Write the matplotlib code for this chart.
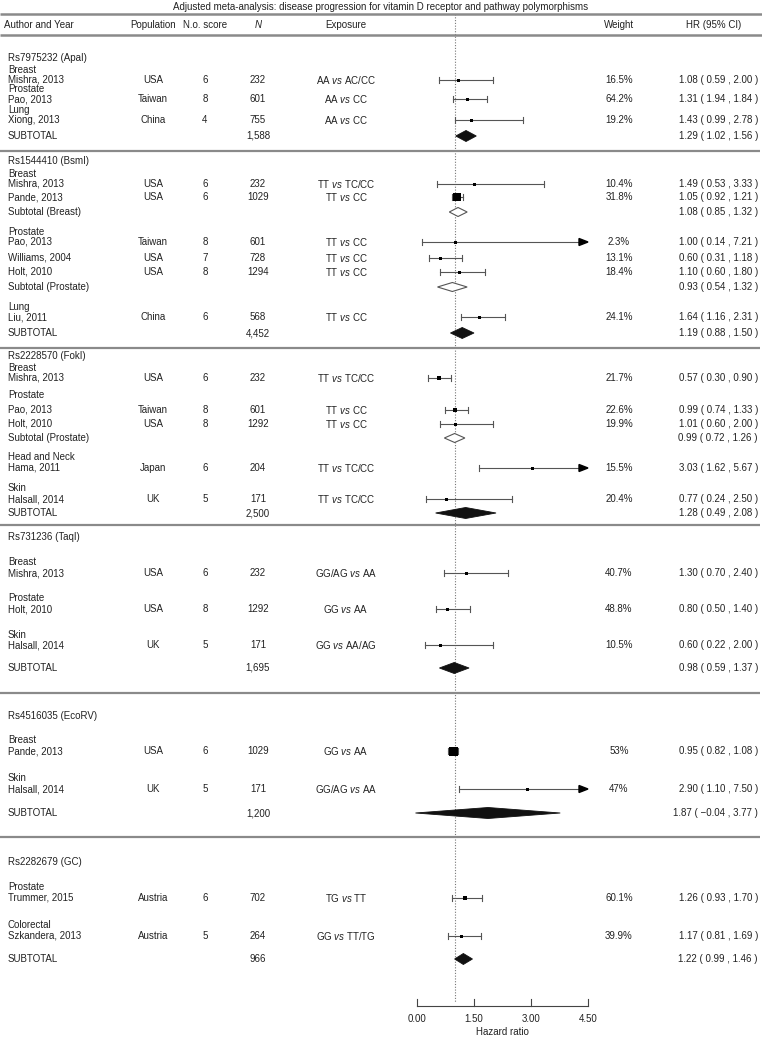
import matplotlib
matplotlib.use("Agg")
import matplotlib.pyplot as plt

plt.rcParams['font.family'] = ['Liberation Sans', 'DejaVu Sans']
plt.rcParams['mathtext.fontset'] = 'custom'
plt.rcParams['mathtext.rm'] = 'Liberation Sans'
plt.rcParams['mathtext.it'] = 'Liberation Sans:italic'

# ---- data ----
title = "Adjusted meta-analysis: disease progression for vitamin D receptor and pathway polymorphisms"

section_names = ["Rs7975232 (ApaI)", "Rs1544410 (BsmI)", "Rs2228570 (FokI)",
                 "Rs731236 (TaqI)", "Rs4516035 (EcoRV)", "Rs2282679 (GC)"]

site_names = ["Breast", "Prostate", "Lung",
              "Breast", "Prostate", "Lung",
              "Breast", "Prostate", "Head and Neck", "Skin",
              "Breast", "Prostate", "Skin",
              "Breast", "Skin",
              "Prostate", "Colorectal"]

study_author = ["Mishra, 2013", "Pao, 2013", "Xiong, 2013",
                "Mishra, 2013", "Pande, 2013", "Pao, 2013", "Williams, 2004", "Holt, 2010", "Liu, 2011",
                "Mishra, 2013", "Pao, 2013", "Holt, 2010", "Hama, 2011", "Halsall, 2014",
                "Mishra, 2013", "Holt, 2010", "Halsall, 2014",
                "Pande, 2013", "Halsall, 2014",
                "Trummer, 2015", "Szkandera, 2013"]
study_population = ["USA", "Taiwan", "China",
                    "USA", "USA", "Taiwan", "USA", "USA", "China",
                    "USA", "Taiwan", "USA", "Japan", "UK",
                    "USA", "USA", "UK",
                    "USA", "UK",
                    "Austria", "Austria"]
study_score = [6, 8, 4, 6, 6, 8, 7, 8, 6, 6, 8, 8, 6, 5, 6, 8, 5, 6, 5, 6, 5]
study_n = [232, 601, 755, 232, 1029, 601, 728, 1294, 568, 232, 601, 1292, 204, 171,
           232, 1292, 171, 1029, 171, 702, 264]
study_exposure = [("AA", "AC/CC"), ("AA", "CC"), ("AA", "CC"),
                  ("TT", "TC/CC"), ("TT", "CC"), ("TT", "CC"), ("TT", "CC"), ("TT", "CC"), ("TT", "CC"),
                  ("TT", "TC/CC"), ("TT", "CC"), ("TT", "CC"), ("TT", "TC/CC"), ("TT", "TC/CC"),
                  ("GG/AG", "AA"), ("GG", "AA"), ("GG", "AA/AG"),
                  ("GG", "AA"), ("GG/AG", "AA"),
                  ("TG", "TT"), ("GG", "TT/TG")]
study_weight = [16.5, 64.2, 19.2, 10.4, 31.8, 2.3, 13.1, 18.4, 24.1, 21.7, 22.6, 19.9, 15.5, 20.4,
                40.7, 48.8, 10.5, 53, 47, 60.1, 39.9]
study_hr = [1.08, 1.31, 1.43, 1.49, 1.05, 1.00, 0.60, 1.10, 1.64, 0.57, 0.99, 1.01, 3.03, 0.77,
            1.30, 0.80, 0.60, 0.95, 2.90, 1.26, 1.17]
study_lo = [0.59, 0.94, 0.99, 0.53, 0.92, 0.14, 0.31, 0.60, 1.16, 0.30, 0.74, 0.60, 1.62, 0.24,
            0.70, 0.50, 0.22, 0.82, 1.10, 0.93, 0.81]
study_hi = [2.00, 1.84, 2.78, 3.33, 1.21, 7.21, 1.18, 1.80, 2.31, 0.90, 1.33, 2.00, 5.67, 2.50,
            2.40, 1.40, 2.00, 1.08, 7.50, 1.70, 1.69]

subtotal_label = ["SUBTOTAL", "Subtotal (Breast)", "Subtotal (Prostate)", "SUBTOTAL",
                  "Subtotal (Prostate)", "SUBTOTAL", "SUBTOTAL", "SUBTOTAL", "SUBTOTAL"]
subtotal_n = ["1,588", "", "", "4,452", "", "2,500", "1,695", "1,200", "966"]
subtotal_hr = [1.29, 1.08, 0.93, 1.19, 0.99, 1.28, 0.98, 1.87, 1.22]
subtotal_lo = [1.02, 0.85, 0.54, 0.88, 0.72, 0.49, 0.59, -0.04, 0.99]
subtotal_hi = [1.56, 1.32, 1.32, 1.50, 1.26, 2.08, 1.37, 3.77, 1.46]
subtotal_overall = [True, False, False, True, False, True, True, True, True]

axis_ticks = [0.0, 1.5, 3.0, 4.5]

# ---- layout (pixel rows from the top of the page) ----
section_y = [58, 161, 356, 537, 716, 862]
separator_y = [151, 348, 525, 693, 837]
site_y = [70, 89, 110, 174, 232, 307, 368, 395, 457, 488, 562, 598, 635, 740, 778, 887, 925]
study_y = [80, 99, 120, 184, 197, 242, 258, 272, 317, 378, 410, 424, 468, 499,
           573, 609, 645, 751, 789, 898, 936]
subtotal_y = [136, 212, 287, 333, 438, 513, 668, 813, 959]

W, H = 762, 1040
X0, PXU = 417, 38.0          # pixel of HR=0 and pixels per HR unit
XMAX = axis_ticks[-1]
FS = 7
TXT = '#222222'
GREY = '#555555'


def col(px):
    return (px - X0) / PXU


fig = plt.figure(figsize=(W / 100, H / 100), dpi=100)
ax = fig.add_axes([0, 0, 1, 1])
ax.set_xlim(col(0), col(W))
ax.set_ylim(H, 0)
ax.axis('off')

# title and header
ax.text(col(W / 2), 7, title, ha='center', va='center', fontsize=FS, color=TXT)
for yl in (14, 35):
    ax.plot([col(0), col(W)], [yl, yl], color='#8a8a8a', lw=1.8, solid_capstyle='butt')
hdr = [("Author and Year", 4, 'left'), ("Population", 153, 'center'), ("N.o. score", 205, 'center'),
       ("N", 258, 'center'), ("Exposure", 346, 'center'), ("Weight", 619, 'center'),
       ("HR (95% CI)", 714, 'center')]
for name, px, ha in hdr:
    ax.text(col(px), 25, name, ha=ha, va='center', fontsize=FS, color=TXT,
            fontstyle='italic' if name == "N" else 'normal')

for name, y in zip(section_names, section_y):
    ax.text(col(8), y, name, ha='left', va='center', fontsize=FS, color=TXT)
for y in separator_y:
    ax.plot([col(0), col(W - 2)], [y, y], color='#8a8a8a', lw=1.6, solid_capstyle='butt')
for name, y in zip(site_names, site_y):
    ax.text(col(8), y, name, ha='left', va='center', fontsize=FS, color=TXT)

# reference line at HR = 1
ax.plot([1, 1], [14, 1002], color='#777777', lw=0.8, ls=(0, (1, 1.5)), zorder=1)

px = 1 / PXU
for i, y in enumerate(study_y):
    ax.text(col(8), y, study_author[i], ha='left', va='center', fontsize=FS, color=TXT)
    ax.text(col(153), y, study_population[i], ha='center', va='center', fontsize=FS, color=TXT)
    ax.text(col(205), y, str(study_score[i]), ha='center', va='center', fontsize=FS, color=TXT)
    ax.text(col(258), y, str(study_n[i]), ha='center', va='center', fontsize=FS, color=TXT)
    a, b = study_exposure[i]
    ax.text(col(346), y, a + r" $\it{vs}$ " + b, ha='center', va='center', fontsize=FS, color=TXT)
    ax.text(col(619), y, f"{study_weight[i]:g}%", ha='center', va='center', fontsize=FS, color=TXT)
    lab_lo = "1.94" if i == 1 else f"{study_lo[i]:.2f}"   # printed that way in the source
    ax.text(col(758), y, f"{study_hr[i]:.2f} ( {lab_lo} , {study_hi[i]:.2f} )",
            ha='right', va='center', fontsize=FS, color=TXT)

    lo, hi = study_lo[i], study_hi[i]
    clipped = hi > XMAX
    right = XMAX - 8 * px if clipped else hi
    ax.plot([lo, right], [y, y], color=GREY, lw=0.8, zorder=2)
    ax.plot([lo, lo], [y - 2.8, y + 2.8], color=GREY, lw=0.8, zorder=2)
    if clipped:
        ax.fill([XMAX - 9 * px, XMAX, XMAX - 9 * px], [y - 3.5, y, y + 3.5], color='black', zorder=3)
    else:
        ax.plot([hi, hi], [y - 2.8, y + 2.8], color=GREY, lw=0.8, zorder=2)
    side = min(max(2.4 / (hi - lo), 3.0), 9.0)
    ax.plot(study_hr[i], y, marker='s', ms=side * 0.72, color='black', mec='black', mew=0, zorder=4)

for i, y in enumerate(subtotal_y):
    ax.text(col(8), y, subtotal_label[i], ha='left', va='center', fontsize=FS, color=TXT)
    ax.text(col(258), y, subtotal_n[i], ha='center', va='center', fontsize=FS, color=TXT)
    lo_txt = f"{subtotal_lo[i]:.2f}".replace('-', '\u2212')
    ax.text(col(758), y, f"{subtotal_hr[i]:.2f} ( {lo_txt} , {subtotal_hi[i]:.2f} )",
            ha='right', va='center', fontsize=FS, color=TXT)
    h = 5.5 if subtotal_overall[i] else 4.5
    xs = [subtotal_lo[i], subtotal_hr[i], subtotal_hi[i], subtotal_hr[i]]
    ys = [y, y - h, y, y + h]
    if subtotal_overall[i]:
        ax.fill(xs, ys, facecolor='#111111', edgecolor='#111111', lw=0.6, zorder=3)
    else:
        ax.fill(xs, ys, facecolor='white', edgecolor=GREY, lw=0.8, zorder=3)

# x axis
ax.plot([axis_ticks[0], axis_ticks[-1]], [1006, 1006], color='#444444', lw=0.8)
for t in axis_ticks:
    ax.plot([t, t], [999, 1006], color='#444444', lw=0.8)
    ax.text(t, 1019, f"{t:.2f}", ha='center', va='center', fontsize=FS, color=TXT)
ax.text((axis_ticks[0] + axis_ticks[-1]) / 2, 1032, "Hazard ratio", ha='center', va='center',
        fontsize=FS, color=TXT)

fig.savefig("out.png", dpi=100)
